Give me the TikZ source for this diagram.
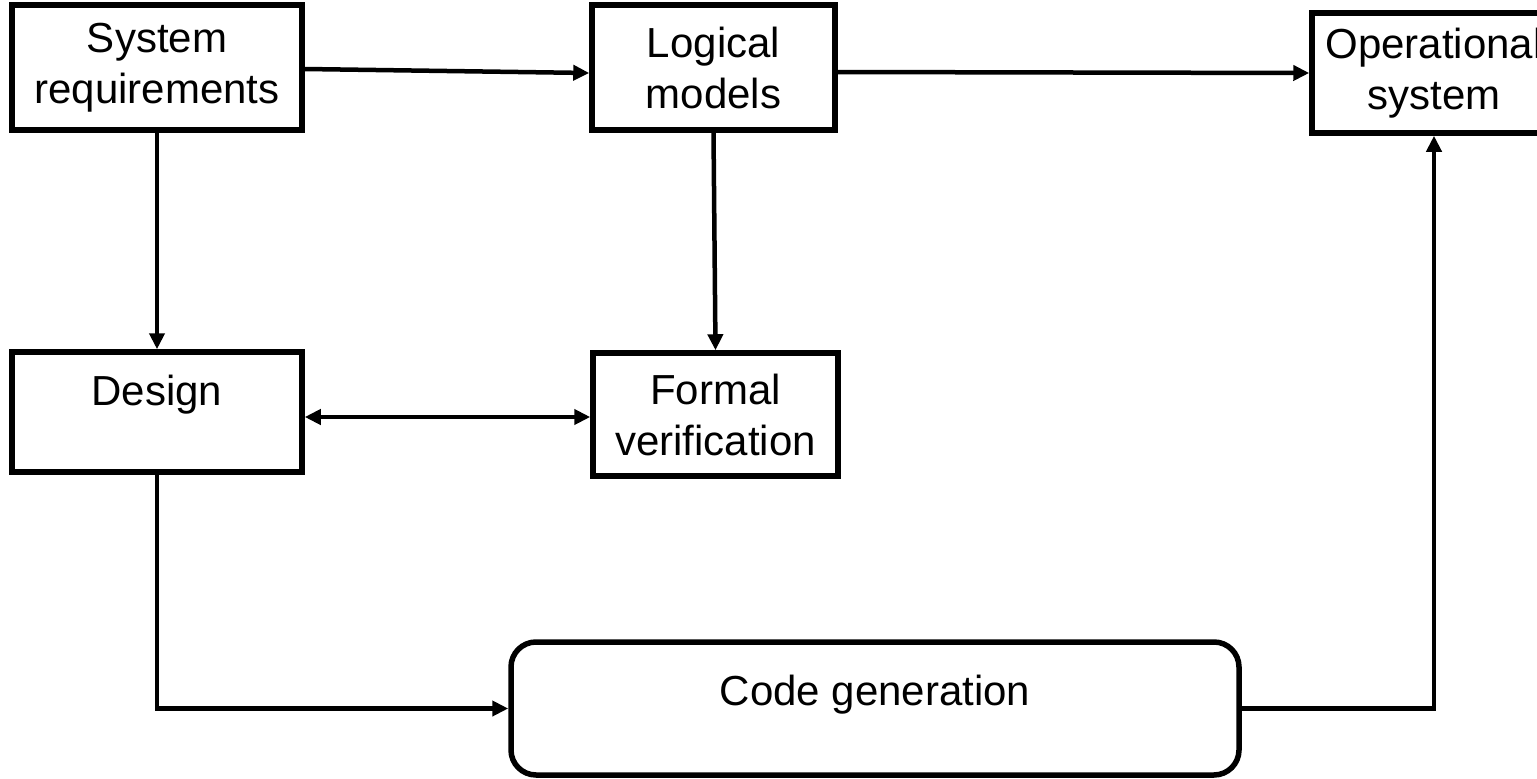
\documentclass[tikz,border=0pt]{standalone}
\usepackage{fontspec}
\setmainfont{Liberation Sans}
\usetikzlibrary{arrows.meta}
\begin{document}
\begin{tikzpicture}[x=1pt,y=-1pt,
  box/.style={draw=black,line width=5.5pt,fill=white,inner sep=0pt,align=center,
    font=\fontsize{42}{51}\selectfont},
  arr/.style={line width=4.5pt,-{Triangle[length=16pt,width=15pt]}},
  darr/.style={line width=4.5pt,{Triangle[length=16pt,width=15pt]}-{Triangle[length=16pt,width=15pt]}},
  line/.style={line width=4.5pt}]
\useasboundingbox (0,0) rectangle (1537,779);
\begin{scope}
\clip (0,0) rectangle (1537,779);
\node[box,minimum width=290pt,minimum height=125pt] (sr) at (157,67.5) {System\\requirements};
\node[box,minimum width=243pt,minimum height=125pt] (lm) at (713.5,67.5) {Logical\\models};
\node[box,minimum width=244pt,minimum height=120pt] (op) at (1434,73) {Operational\\system};
\node[box,minimum width=290pt,minimum height=120pt,text height=30pt,text depth=44pt] (ds) at (157,412) {Design};
\node[box,minimum width=245pt,minimum height=123pt] (fv) at (715.5,414.5) {Formal\\verification};
\node[box,rounded corners=25pt,minimum width=728pt,minimum height=133pt,text height=30pt,text depth=37pt] (cg) at (875,708.5) {Code generation};
\draw[arr] ([yshift=-1.5pt]sr.east) -- ([yshift=-5.5pt]lm.west);
\draw[arr] ([yshift=-4.5pt]lm.east) -- (op.west);
\draw[arr] (sr.south) -- (ds.north);
\draw[arr] (lm.south) -- (fv.north);
\draw[darr] ([yshift=-5pt]ds.east) -- ([yshift=-2.5pt]fv.west);
\draw[arr] (ds.south) -- (ds.south |- cg.west) -- (cg.west);
\draw[arr] (cg.east) -- (op.south |- cg.east) -- (op.south);
\end{scope}
\end{tikzpicture}
\end{document}
